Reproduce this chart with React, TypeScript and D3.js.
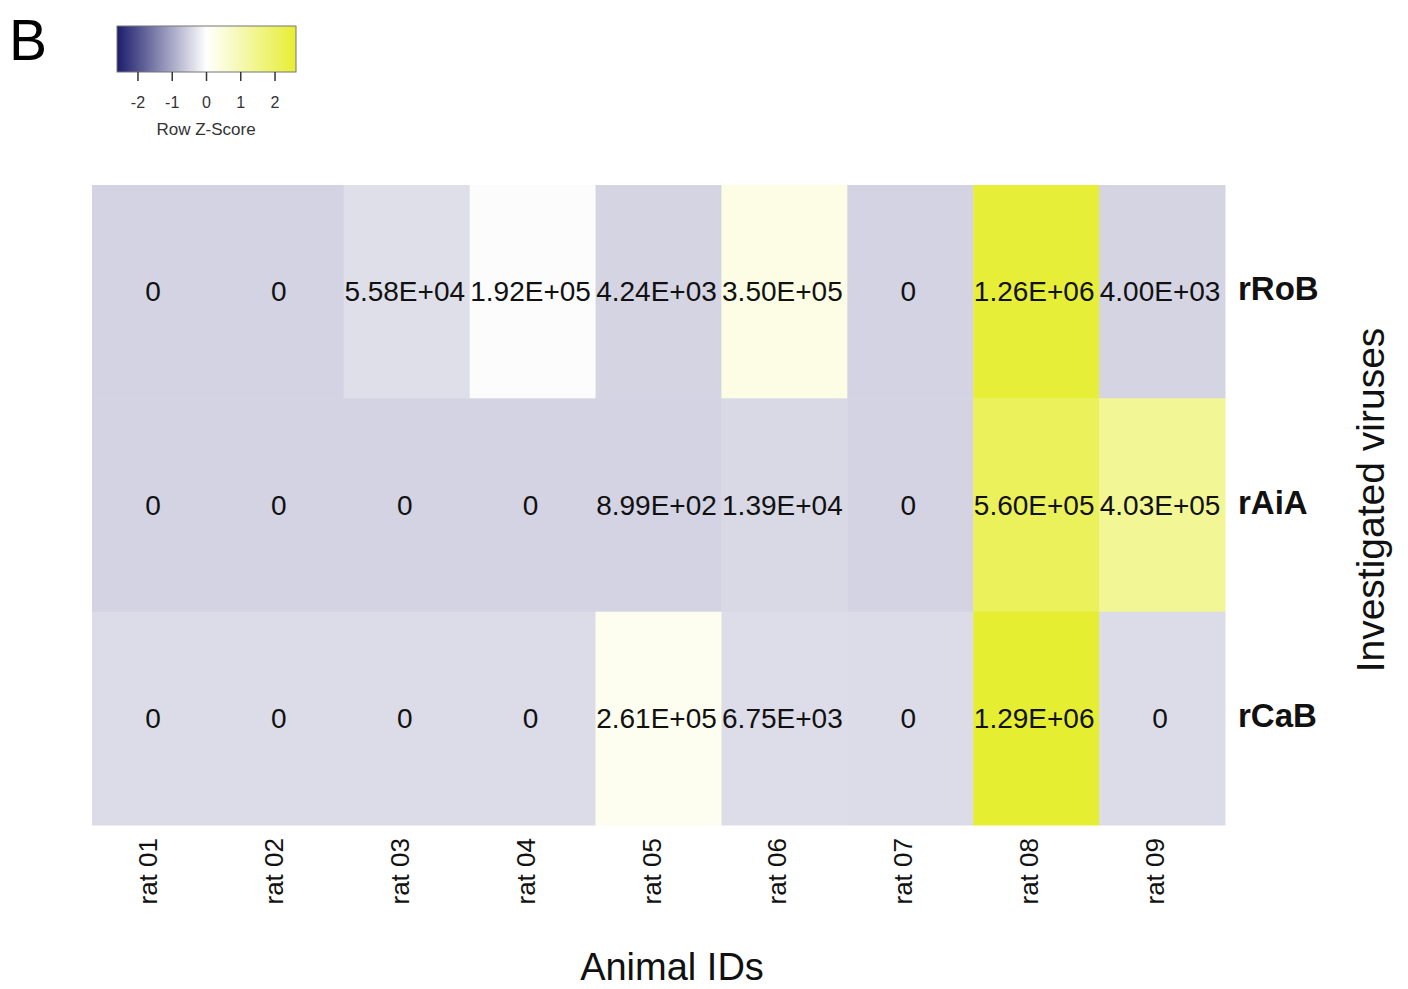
import React from 'react';
import * as d3 from 'd3';

const animals = ['rat 01', 'rat 02', 'rat 03', 'rat 04', 'rat 05', 'rat 06', 'rat 07', 'rat 08', 'rat 09'];
const viruses = ['rRoB', 'rAiA', 'rCaB'];

const rRoB = [0, 0, 5.58e4, 1.92e5, 4.24e3, 3.5e5, 0, 1.26e6, 4.0e3];
const rAiA = [0, 0, 0, 0, 8.99e2, 1.39e4, 0, 5.6e5, 4.03e5];
const rCaB = [0, 0, 0, 0, 2.61e5, 6.75e3, 0, 1.29e6, 0];
const rows = [rRoB, rAiA, rCaB];

const legendTicks = [-2, -1, 0, 1, 2];

const fmt = (v: number) => {
  if (v === 0) return '0';
  const s = v.toExponential(2).toUpperCase(); // 5.58E+4
  return s.replace(/E([+-])(\d)$/, 'E$10$2');
};

// row z-scores (like heatmap.2 scale="row")
const zRows = rows.map((r) => {
  const m = d3.mean(r) as number;
  const sd = d3.deviation(r) as number;
  return r.map((v) => (v - m) / sd);
});
const zMax = d3.max(zRows.flat().map(Math.abs)) as number;

const color = d3
  .scaleLinear<string>()
  .domain([-zMax, 0, zMax])
  .range(['#1c1c6c', '#ffffff', '#e6ee32']);

export default function App() {
  const width = 1408;
  const height = 989;
  const margin = { left: 92, top: 185, right: 1225, bottom: 825 };

  const x = d3.scaleBand().domain(animals).range([margin.left, margin.right]);
  const y = d3.scaleBand().domain(viruses).range([margin.top, margin.bottom]);

  const lx = d3.scaleLinear().domain([-zMax, zMax]).range([117, 296]);
  const stops = d3.range(0, 1.0001, 0.05);

  const font = 'Liberation Sans, Arial, Helvetica, sans-serif';

  return (
    <svg width={width} height={height} style={{ position: 'absolute', left: 0, top: 0 }} fontFamily={font}>
      <rect width={width} height={height} fill="#fff" />
      <defs>
        <linearGradient id="lg" x1="0" x2="1" y1="0" y2="0">
          {stops.map((t) => (
            <stop key={t} offset={t} stopColor={color(-zMax + 2 * zMax * t)} />
          ))}
        </linearGradient>
      </defs>

      <text x={9} y={60} fontSize={57}>B</text>

      {/* legend */}
      <rect x={lx(-zMax)} y={26} width={lx(zMax) - lx(-zMax)} height={46} fill="url(#lg)" stroke="#777" strokeWidth={1} />
      {legendTicks.map((t) => (
        <g key={t}>
          <line x1={lx(t)} x2={lx(t)} y1={72} y2={81} stroke="#333" strokeWidth={1.5} />
          <text x={lx(t)} y={108} fontSize={16} textAnchor="middle" fill="#333">{t}</text>
        </g>
      ))}
      <text x={206} y={135} fontSize={17} textAnchor="middle" fill="#333">Row Z-Score</text>

      {/* cells */}
      {rows.map((r, i) =>
        r.map((v, j) => (
          <rect
            key={`${i}-${j}`}
            x={x(animals[j])}
            y={y(viruses[i])}
            width={x.bandwidth() + 0.5}
            height={y.bandwidth() + 0.5}
            fill={color(zRows[i][j])}
          />
        ))
      )}
      {rows.map((r, i) =>
        r.map((v, j) => (
          <text
            key={`t${i}-${j}`}
            x={(x(animals[j]) as number) + x.bandwidth() / 2 - 2}
            y={(y(viruses[i]) as number) + y.bandwidth() / 2}
            dy="0.35em"
            fontSize={28}
            textAnchor="middle"
            fill="#111"
          >
            {fmt(v)}
          </text>
        ))
      )}

      {/* row labels */}
      {viruses.map((v) => (
        <text
          key={v}
          x={1238}
          y={(y(v) as number) + y.bandwidth() / 2 - 3}
          dy="0.35em"
          fontSize={33}
          fontWeight="bold"
          fill="#111"
        >
          {v}
        </text>
      ))}

      {/* column labels */}
      {animals.map((a) => {
        const cx = (x(a) as number) + x.bandwidth() / 2 - 7;
        return (
          <text
            key={a}
            transform={`translate(${cx},838) rotate(-90)`}
            dy="0.35em"
            fontSize={26}
            textAnchor="end"
            fill="#111"
          >
            {a}
          </text>
        );
      })}

      <text x={672} y={980} fontSize={38} textAnchor="middle" fill="#111">Animal IDs</text>
      <text transform="translate(1384,500) rotate(-90)" fontSize={39} textAnchor="middle" fill="#111">
        Investigated viruses
      </text>
    </svg>
  );
}
